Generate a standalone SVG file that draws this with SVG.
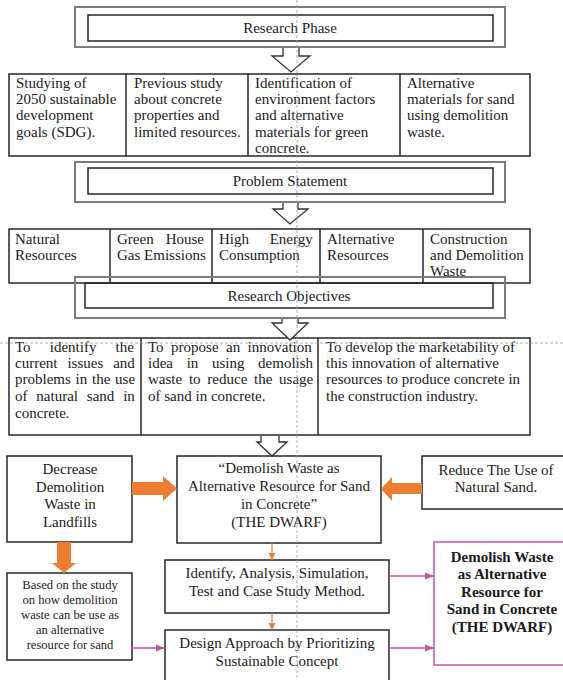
<svg xmlns="http://www.w3.org/2000/svg" width="563" height="680" viewBox="0 0 563 680">
<style>
text{font-family:"Liberation Serif","Times New Roman",serif;font-size:15px;fill:#1a1a1a}
.c{text-anchor:middle}
.b{font-weight:bold}
.sm{font-size:12.6px}
.box{fill:#fff;stroke:#262626;stroke-width:1.5}
.tbl{fill:none;stroke:#262626;stroke-width:1.5}
.outer{fill:none;stroke:#7c7c7c;stroke-width:2}
.inner{fill:#fff;stroke:#262626;stroke-width:1.5}
.hollow{fill:#fff;stroke:#333;stroke-width:1.3}
.orange{fill:#ED7D31}
.thinO{stroke:#ED7D31;stroke-width:1.2;fill:none}
.pink{stroke:#C8559F;stroke-width:1.3;fill:none}
.guide{stroke:#9a9a9a;stroke-width:0.8;stroke-dasharray:3 2;fill:none}
</style>
<defs>
<marker id="ao" markerWidth="8" markerHeight="8" refX="7" refY="4" orient="auto" markerUnits="userSpaceOnUse"><path d="M0,0.5 L7,4 L0,7.5 Z" fill="#ED7D31"/></marker>
<marker id="ap" markerWidth="10" markerHeight="8" refX="9" refY="4" orient="auto" markerUnits="userSpaceOnUse"><path d="M0,0.5 L9,4 L0,7.5 Z" fill="#C8559F"/></marker>
</defs>
<rect width="563" height="680" fill="#fff"/>

<g id="research-phase">
<rect class="outer" x="75" y="7" width="430" height="40"/>
<rect class="inner" x="88" y="15" width="405" height="26"/>
<text class="c" x="290" y="33">Research Phase</text>
</g>

<g id="phase-row">
<rect class="tbl" x="9" y="74" width="521" height="82"/>
<path class="tbl" d="M126,74V156M248,74V156M400,74V156"/>
<text x="16" y="88">Studying of</text>
<text x="16" y="104">2050 sustainable</text>
<text x="16" y="120">development</text>
<text x="16" y="137">goals (SDG).</text>
<text x="134" y="88">Previous study</text>
<text x="134" y="104">about concrete</text>
<text x="134" y="120">properties and</text>
<text x="134" y="137">limited resources.</text>
<text x="255" y="88">Identification of</text>
<text x="255" y="104">environment factors</text>
<text x="255" y="120">and alternative</text>
<text x="255" y="137">materials for green</text>
<text x="255" y="153">concrete.</text>
<text x="407" y="88">Alternative</text>
<text x="407" y="104">materials for sand</text>
<text x="407" y="120">using demolition</text>
<text x="407" y="137">waste.</text>
</g>

<g id="problem-statement">
<rect class="outer" x="75" y="162" width="430" height="40"/>
<rect class="inner" x="88" y="168" width="405" height="26"/>
<text class="c" x="290" y="186">Problem Statement</text>
</g>

<g id="problem-row">
<rect class="tbl" x="9" y="229" width="521" height="54"/>
<path class="tbl" d="M110,229V283M212,229V283M320,229V283M423,229V283"/>
<text x="15" y="244">Natural</text>
<text x="15" y="260">Resources</text>
<text x="117" y="244" word-spacing="8.3">Green House</text>
<text x="117" y="260">Gas Emissions</text>
<text x="219" y="244" word-spacing="16.9">High Energy</text>
<text x="219" y="260">Consumption</text>
<text x="327" y="244">Alternative</text>
<text x="327" y="260">Resources</text>
<text x="430" y="244">Construction</text>
<text x="430" y="260">and Demolition</text>
<text x="430" y="276">Waste</text>
</g>

<g id="research-objectives">
<rect class="outer" x="75" y="277" width="430" height="41"/>
<rect class="tbl" x="85" y="283" width="408" height="25"/>
<text class="c" x="289" y="301">Research Objectives</text>
</g>

<g id="objectives-row">
<rect class="tbl" x="9" y="338" width="521" height="97"/>
<path class="tbl" d="M141,338V435M318,338V435"/>
<text x="15" y="352" word-spacing="15.4">To identify the</text>
<text x="15" y="368" word-spacing="6.2">current issues and</text>
<text x="15" y="384" word-spacing="1">problems in the use</text>
<text x="15" y="401" word-spacing="5.1">of natural sand in</text>
<text x="15" y="418">concrete.</text>
<text x="148" y="352" word-spacing="3.7">To propose an innovation</text>
<text x="148" y="368" word-spacing="9.9">idea in using demolish</text>
<text x="148" y="384" word-spacing="3">waste to reduce the usage</text>
<text x="148" y="401">of sand in concrete.</text>
<text x="326" y="352">To develop the marketability of</text>
<text x="326" y="368">this innovation of alternative</text>
<text x="326" y="384">resources to produce concrete in</text>
<text x="326" y="401">the construction industry.</text>
</g>

<g id="decrease">
<rect class="box" x="7" y="456" width="125" height="86"/>
<text class="c" x="70" y="474">Decrease</text>
<text class="c" x="70" y="492">Demolition</text>
<text class="c" x="70" y="509">Waste in</text>
<text class="c" x="70" y="527">Landfills</text>
</g>

<g id="dwarf">
<rect class="box" x="177" y="456" width="204" height="87"/>
<text class="c" x="279" y="473">“Demolish Waste as</text>
<text class="c" x="279" y="491">Alternative Resource for Sand</text>
<text class="c" x="279" y="509">in Concrete”</text>
<text class="c" x="279" y="527">(THE DWARF)</text>
</g>

<g id="reduce">
<rect class="box" x="422" y="456" width="150" height="53"/>
<text class="c" x="496" y="475">Reduce The Use of</text>
<text class="c" x="496" y="492">Natural Sand.</text>
</g>

<g id="based">
<rect class="box" x="7" y="573" width="125" height="87"/>
<text class="c sm" x="70" y="589">Based on the study</text>
<text class="c sm" x="70" y="604">on how demolition</text>
<text class="c sm" x="70" y="619">waste can be use as</text>
<text class="c sm" x="70" y="634">an alternative</text>
<text class="c sm" x="70" y="649">resource for sand</text>
</g>

<g id="identify">
<rect class="box" x="165" y="560" width="224" height="53"/>
<text class="c" x="277" y="578">Identify, Analysis, Simulation,</text>
<text class="c" x="277" y="596">Test and Case Study Method.</text>
</g>

<g id="design">
<rect class="box" x="165" y="630" width="224" height="60"/>
<text class="c" x="277" y="648">Design Approach by Prioritizing</text>
<text class="c" x="277" y="666">Sustainable Concept</text>
</g>

<g id="result">
<rect x="434" y="542" width="136" height="123" fill="#fff" stroke="#C8559F" stroke-width="1.5"/>
<text class="c b" x="502" y="562">Demolish Waste</text>
<text class="c b" x="502" y="579">as Alternative</text>
<text class="c b" x="502" y="597">Resource for</text>
<text class="c b" x="502" y="614">Sand in Concrete</text>
<text class="c b" x="502" y="632">(THE DWARF)</text>
</g>

<g id="connectors">
<path class="hollow" d="M283,48V56H272L291,72L310,56H299V48"/>
<path class="hollow" d="M283,203V209H273L290,224L308,209H298V203"/>
<path class="hollow" d="M282,319V323H272L290,340L308,323H298V319"/>
<path class="hollow" d="M261,436V442H257L272,456L287,442H279V436"/>
<polygon class="orange" points="132,482 163,482 163,476 177,488.5 163,501 163,495 132,495"/>
<polygon class="orange" points="422,483 392,483 392,477 381,489 392,501 392,494 422,494"/>
<polygon class="orange" points="57,542 71,542 71,563 76,563 64,573 52,563 57,563"/>
<line class="thinO" x1="272" y1="543" x2="272" y2="560" marker-end="url(#ao)"/>
<line class="thinO" x1="272" y1="613" x2="272" y2="630" marker-end="url(#ao)"/>
<line class="pink" x1="132" y1="648" x2="165" y2="648" marker-end="url(#ap)"/>
<line class="pink" x1="389" y1="576" x2="434" y2="576" marker-end="url(#ap)"/>
<line class="pink" x1="389" y1="648" x2="434" y2="648" marker-end="url(#ap)"/>
</g>

<g id="guides">
<line class="guide" x1="297" y1="0" x2="297" y2="680"/>
<line class="guide" x1="0" y1="343" x2="563" y2="343"/>
</g>
</svg>
